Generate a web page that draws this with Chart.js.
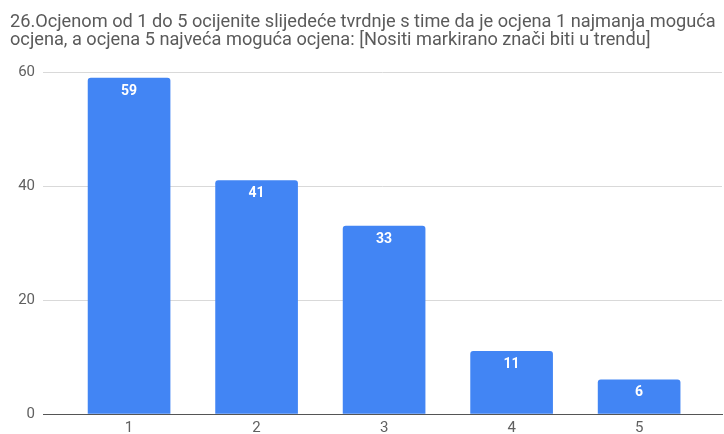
<!DOCTYPE html>
<html><head><meta charset="utf-8">
<script src="https://cdn.jsdelivr.net/npm/chart.js@4.4.1/dist/chart.umd.min.js"></script>
<style>html,body{margin:0;padding:0;background:#fff;}#wrap{width:724px;height:434px;}</style>
</head><body><div id="wrap"><canvas id="c" width="724" height="434"></canvas></div>
<script>
const categories = [1, 2, 3, 4, 5];
const counts = [59, 41, 33, 11, 6];
const yTicks = [0, 20, 40, 60];
const titleLines = ["26.Ocjenom od 1 do 5 ocijenite slijedeće tvrdnje s time da je ocjena 1 najmanja moguća", "ocjena, a ocjena 5 najveća moguća ocjena: [Nositi markirano znači biti u trendu]"];

const barLabels = {
  id: 'barLabels',
  afterDatasetsDraw(chart) {
    const ctx = chart.ctx;
    const meta = chart.getDatasetMeta(0);
    ctx.save();
    ctx.fillStyle = '#ffffff';
    ctx.font = 'bold 14px Roboto';
    ctx.textAlign = 'center';
    ctx.textBaseline = 'middle';
    meta.data.forEach((bar, i) => {
      ctx.fillText(String(counts[i]), bar.x, bar.y + 13);
    });
    ctx.restore();
  }
};

new Chart(document.getElementById('c'), {
  type: 'bar',
  data: {
    datasets: [{
      data: categories.map((c, i) => ({x: c, y: counts[i]})),
      backgroundColor: '#4285f4',
      borderRadius: {topLeft: 3, topRight: 3},
      borderSkipped: 'bottom',
      barThickness: 82
    }]
  },
  options: {
    responsive: false,
    animation: false,
    layout: {padding: {left: 10, right: 2, top: 0, bottom: 0}},
    plugins: {
      legend: {display: false},
      tooltip: {enabled: false},
      title: {
        display: true,
        text: titleLines,
        align: 'start',
        color: '#5a5a5a',
        font: {family: 'Roboto', size: 18.2, weight: 'normal', lineHeight: 1.0},
        padding: {top: 13, bottom: 23}
      }
    },
    scales: {
      x: {
        type: 'linear',
        offset: false,
        min: 0.325,
        max: 5.65,
        afterBuildTicks(scale) { scale.ticks = categories.map(v => ({value: v})); },
        afterFit(scale) { scale.height = 20; },
        grid: {display: false, drawTicks: false},
        border: {display: true, color: '#555555', width: 1},
        ticks: {color: '#606060', font: {family: 'Roboto', size: 15}, padding: 5, autoSkip: false, maxRotation: 0}
      },
      y: {
        min: 0,
        max: 60,
        afterBuildTicks(scale) { scale.ticks = yTicks.map(v => ({value: v})); },
        afterFit(scale) { scale.width = 33; },
        grid: {color: '#d9d9d9', drawTicks: false},
        border: {display: false},
        ticks: {color: '#606060', font: {family: 'Roboto', size: 15}, padding: 8}
      }
    }
  },
  plugins: [barLabels]
});
</script></body></html>
